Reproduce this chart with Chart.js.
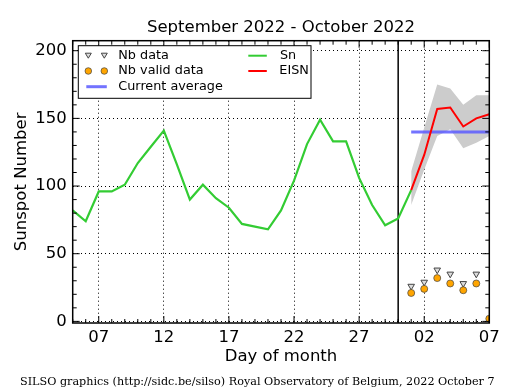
<!DOCTYPE html>
<html lang="en">
<head>
<meta charset="UTF-8">
<title>Sunspot Number</title>
<script src="https://cdn.jsdelivr.net/npm/chart.js"></script>
<style>
  html, body { margin: 0; padding: 0; background: #fff; }
  #wrap { width: 515px; height: 390px; }
</style>
</head>
<body>
<div id="wrap"><canvas id="myChart" width="515" height="390"></canvas></div>
<script>
// x is a day index: 0 = Sep 05 ... 25 = Sep 30, 26 = Oct 01 ... 32 = Oct 07
const snDays = [5, 6, 7, 8, 9, 10, 11, 12, 13, 14, 15, 16, 17, 18, 19, 20, 21, 22, 23, 24, 25, 26, 27, 28, 29, 30, 31];
const snValues = [82, 74, 96, 96, 101, 117, 129, 141, 116, 90, 101, 91, 84, 72, 70, 68, 82, 104, 131, 149, 133, 133, 106, 86, 71, 76, 97];

const octDays = [31, 32, 33, 34, 35, 36, 37];   // Oct 1..7 counted from Sep
const eisnValues = [97, 123, 157, 158, 144, 150, 153];
const eisnHigh = [111, 143, 175, 172, 160, 167, 167];
const eisnLow = [86, 112, 137, 142, 128, 132, 137];
const currentAverage = [140, 140, 140, 140, 140, 140, 140];
const nbData = [26, 29, 38, 35, 28, 35, null];
const nbValid = [21, 24, 32, 28, 23, 28, 2];

const firstDay = 5;
const lastDay = 37;
const monthBreak = 30;
const xTickDays = [7, 12, 17, 22, 27, 32, 37];
const xTickLabels = ['07', '12', '17', '22', '27', '02', '07'];
const yTicks = [0, 50, 100, 150, 200];

const FONT = '"DejaVu Sans", sans-serif';

function pts(days, values) {
    return days.map((d, i) => ({ x: d - firstDay, y: values[i] }));
}

// frame, inward ticks, month separator
const framePlugin = {
    id: 'frame',
    beforeDatasetsDraw(chart) {
        const { ctx, chartArea: a, scales: { x } } = chart;
        const px = x.getPixelForValue(monthBreak - firstDay);
        ctx.save();
        ctx.strokeStyle = '#000';
        ctx.lineWidth = 1.5;
        ctx.beginPath();
        ctx.moveTo(px, a.top);
        ctx.lineTo(px, a.bottom);
        ctx.stroke();
        ctx.restore();
    },
    afterDraw(chart) {
        const { ctx, chartArea: a, scales: { x, y } } = chart;
        ctx.save();
        ctx.strokeStyle = '#000';
        ctx.lineWidth = 1;
        ctx.beginPath();
        for (let d = firstDay; d <= lastDay; d++) {
            const px = x.getPixelForValue(d - firstDay);
            const len = xTickDays.includes(d) ? 7 : 4;
            ctx.moveTo(px, a.bottom); ctx.lineTo(px, a.bottom - len);
            ctx.moveTo(px, a.top); ctx.lineTo(px, a.top + len);
        }
        for (let v = 0; v <= 200; v += 10) {
            const py = y.getPixelForValue(v);
            const len = yTicks.includes(v) ? 7 : 4;
            ctx.moveTo(a.left, py); ctx.lineTo(a.left + len, py);
            ctx.moveTo(a.right, py); ctx.lineTo(a.right - len, py);
        }
        ctx.stroke();
        ctx.lineWidth = 1.5;
        ctx.strokeRect(a.left, a.top, a.right - a.left, a.bottom - a.top);

        // title and footer
        ctx.fillStyle = '#000';
        ctx.font = '16.5px ' + FONT;
        ctx.textAlign = 'center';
        ctx.textBaseline = 'alphabetic';
        ctx.fillText('September 2022 - October 2022', (a.left + a.right) / 2, 31.7);
        ctx.font = '11.2px "DejaVu Serif", serif';
        ctx.textAlign = 'left';
        ctx.textBaseline = 'middle';
        ctx.fillText('SILSO graphics (http://sidc.be/silso) Royal Observatory of Belgium, 2022 October 7', 20, 382);

        // legend
        const lx = a.left + 5.6, ly = a.top + 5;
        ctx.fillStyle = '#fff';
        ctx.fillRect(lx, ly, 232.7, 52.6);
        ctx.strokeStyle = '#000';
        ctx.lineWidth = 1;
        ctx.strokeRect(lx, ly, 232.7, 52.6);
        const rows = [ly + 10, ly + 25.3, ly + 41];
        ctx.font = '12.8px ' + FONT;
        ctx.fillStyle = '#000';
        ctx.textAlign = 'left';
        ctx.textBaseline = 'middle';
        ctx.fillText('Nb data', lx + 40, rows[0]);
        ctx.fillText('Nb valid data', lx + 40, rows[1]);
        ctx.fillText('Current average', lx + 40, rows[2]);
        ctx.fillText('Sn', lx + 201.7, rows[0]);
        ctx.fillText('EISN', lx + 201, rows[1]);
        [lx + 10, lx + 26].forEach(mx => {
            ctx.beginPath();
            ctx.moveTo(mx - 3, rows[0] - 2.5);
            ctx.lineTo(mx + 3, rows[0] - 2.5);
            ctx.lineTo(mx, rows[0] + 2.5);
            ctx.closePath();
            ctx.fillStyle = '#ddd';
            ctx.fill();
            ctx.strokeStyle = '#444';
            ctx.lineWidth = 1;
            ctx.stroke();
            ctx.beginPath();
            ctx.arc(mx, rows[1], 3.3, 0, Math.PI * 2);
            ctx.fillStyle = '#ffa500';
            ctx.fill();
            ctx.strokeStyle = '#444';
            ctx.lineWidth = 0.7;
            ctx.stroke();
        });
        const seg = (x0, x1, yy, color, w) => {
            ctx.beginPath();
            ctx.moveTo(x0, yy); ctx.lineTo(x1, yy);
            ctx.strokeStyle = color; ctx.lineWidth = w; ctx.stroke();
        };
        seg(lx + 8, lx + 28.5, rows[2], 'rgba(90,90,255,0.85)', 3);
        seg(lx + 170, lx + 188.5, rows[0], '#33cc33', 2);
        seg(lx + 170, lx + 188.5, rows[1], '#ff0000', 2);
        ctx.restore();
    }
};

const ctx = document.getElementById('myChart').getContext('2d');

const myChart = new Chart(ctx, {
    type: 'line',
    data: {
        datasets: [
            {
                label: 'Nb valid data',
                type: 'scatter',
                data: pts(octDays, nbValid),
                pointStyle: 'circle',
                pointRadius: 3.5,
                backgroundColor: '#ffa500',
                borderColor: '#444',
                borderWidth: 0.7,
                clip: 0
            },
            {
                label: 'Nb data',
                type: 'scatter',
                data: pts(octDays, nbData),
                pointStyle: 'triangle',
                rotation: 180,
                pointRadius: 3.8,
                backgroundColor: '#ddd',
                borderColor: '#444',
                borderWidth: 1,
                clip: 0
            },
            {
                label: 'EISN',
                data: pts(octDays, eisnValues),
                borderColor: '#ff0000',
                borderWidth: 2,
                pointRadius: 0,
                tension: 0
            },
            {
                label: 'Sn',
                data: pts(snDays, snValues),
                borderColor: '#33cc33',
                borderWidth: 2.2,
                pointRadius: 0,
                tension: 0
            },
            {
                label: 'Current average',
                data: pts(octDays, currentAverage),
                borderColor: 'rgba(90,90,255,0.85)',
                borderWidth: 3,
                pointRadius: 0,
                tension: 0
            },
            {
                label: 'EISN high',
                data: pts(octDays, eisnHigh),
                borderWidth: 0,
                pointRadius: 0,
                tension: 0,
                backgroundColor: '#cccccc',
                fill: '+1'
            },
            {
                label: 'EISN low',
                data: pts(octDays, eisnLow),
                borderWidth: 0,
                pointRadius: 0,
                tension: 0
            }
        ]
    },
    options: {
        responsive: false,
        animation: false,
        events: [],
        layout: { padding: { top: 40.7, right: 25.7, left: 0, bottom: 0 } },
        plugins: {
            legend: { display: false },
            tooltip: { enabled: false },
            title: { display: false }
        },
        scales: {
            x: {
                type: 'linear',
                min: 0,
                max: lastDay - firstDay,
                afterFit: scale => { scale.height = 67; },
                afterBuildTicks: scale => {
                    scale.ticks = xTickDays.map(d => ({ value: d - firstDay }));
                },
                ticks: {
                    autoSkip: false,
                    maxRotation: 0,
                    padding: 5,
                    color: '#000',
                    font: { family: FONT, size: 16.5 },
                    callback: (v, i) => xTickLabels[i]
                },
                grid: {
                    drawTicks: false,
                    color: c => (c.tick && c.tick.value === lastDay - firstDay) ? 'transparent' : '#000',
                    lineWidth: 1
                },
                border: { display: false, dash: [1, 3] },
                title: {
                    display: true,
                    text: 'Day of month',
                    color: '#000',
                    font: { family: FONT, size: 16.5 },
                    padding: { top: 0, bottom: 23.5 }
                }
            },
            y: {
                min: -1.2,
                max: 207.4,
                afterFit: scale => { scale.width = 72.7; },
                afterBuildTicks: scale => {
                    scale.ticks = yTicks.map(v => ({ value: v }));
                },
                ticks: {
                    padding: 6,
                    color: '#000',
                    font: { family: FONT, size: 16.5 }
                },
                grid: {
                    drawTicks: false,
                    color: '#000',
                    lineWidth: 1
                },
                border: { display: false, dash: [1, 3] },
                title: {
                    display: true,
                    text: 'Sunspot Number',
                    color: '#000',
                    font: { family: FONT, size: 16.5 },
                    padding: { top: 12, bottom: 0 }
                }
            }
        }
    },
    plugins: [framePlugin]
});
</script>
</body>
</html>
